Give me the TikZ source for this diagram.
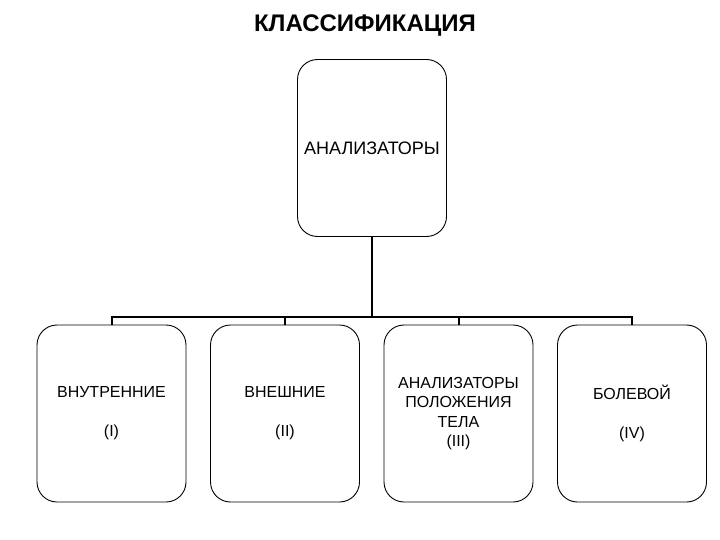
\documentclass[tikz,border=0pt]{standalone}
\usepackage{fontspec}
\setmainfont{Liberation Sans}
\begin{document}
\begin{tikzpicture}[x=1pt,y=-1pt,
  box/.style={draw,line width=0.9pt,rounded corners=20pt,minimum width=149pt,minimum height=177pt,inner sep=0pt,align=center,font=\fontsize{16}{19.3}\selectfont},
  conn/.style={line width=2pt}]
\useasboundingbox (0,0) rectangle (720,540);
\node[font=\bfseries\fontsize{24}{28}\selectfont] (title) at (365,26) {КЛАССИФИКАЦИЯ};
\node[box,font=\fontsize{18}{21}\selectfont] (top) at (372,148) {АНАЛИЗАТОРЫ};
\node[box] (b1) at (111.5,413.5) {ВНУТРЕННИЕ\\[19.7pt](I)};
\node[box] (b2) at (285,413.5) {ВНЕШНИЕ\\[19.7pt](II)};
\node[box] (b3) at (458.5,413.5) {АНАЛИЗАТОРЫ\\ПОЛОЖЕНИЯ\\ТЕЛА\\(III)};
\node[box] (b4) at (632,413.5) {БОЛЕВОЙ\\[19.7pt](IV)};
\coordinate (bus) at (372,317);
\draw[conn] (top.south) -- (bus);
\draw[conn] (b1.north) -- (b1.north |- bus) -- (b4.north |- bus) -- (b4.north);
\draw[conn] (b2.north) -- (b2.north |- bus);
\draw[conn] (b3.north) -- (b3.north |- bus);
\end{tikzpicture}
\end{document}
